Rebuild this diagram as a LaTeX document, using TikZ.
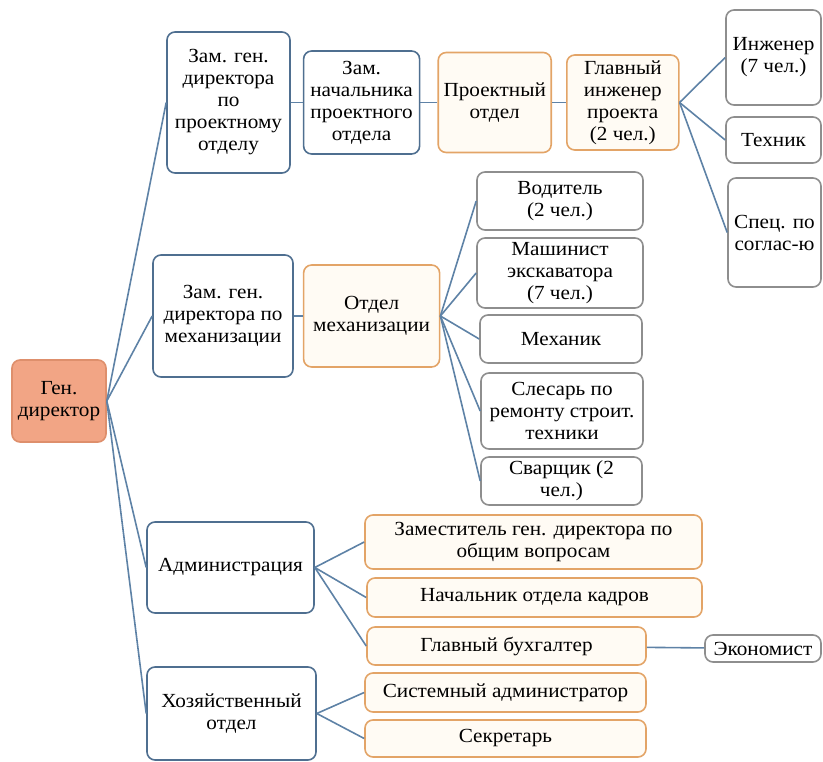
\documentclass[tikz,border=0pt]{standalone}
\usepackage{fontspec}
\newfontfamily\timesfont{Liberation Serif}[FakeStretch=1.06]
\usetikzlibrary{positioning}
\definecolor{bluedraw}{HTML}{4F6F90}
\definecolor{linkblue}{HTML}{5E82A6}
\definecolor{orangedraw}{HTML}{E3A467}
\definecolor{orangefill}{HTML}{FFFBF4}
\definecolor{greydraw}{HTML}{8E8E8E}
\definecolor{genfill}{HTML}{F2A585}
\definecolor{gendraw}{HTML}{DE8F6C}

\begin{document}
\begin{tikzpicture}[x=1pt, y=-1pt, font=\timesfont\fontsize{20}{22}\selectfont,
    basenode/.style={rectangle, rounded corners=8pt, line width=1.6pt, align=center, inner sep=1pt},
    gennode/.style={basenode, draw=gendraw, fill=genfill},
    bluenode/.style={basenode, draw=bluedraw, fill=white},
    orangenode/.style={basenode, draw=orangedraw, fill=orangefill},
    greynode/.style={basenode, draw=greydraw, fill=white},
    link/.style={draw=linkblue, line width=1.6pt}]

        \useasboundingbox (0,0) rectangle (823,762);

        \node[gennode, minimum width=94pt, minimum height=82pt] (1) at (59,401) {Ген.\\директор};

        \node[bluenode, minimum width=123pt, minimum height=141pt] (2) at (228.5,102.5) {Зам. ген.\\директора\\по\\проектному\\отделу};
        \node[bluenode, minimum width=116pt, minimum height=103pt] (3) [right=12pt of 2] {Зам.\\начальника\\проектного\\отдела};
        \node[orangenode, minimum width=113pt, minimum height=100pt] (4) [right=17pt of 3] {Проектный\\отдел};
        \node[orangenode, minimum width=112pt, minimum height=95pt] (5) [right=14pt of 4] {Главный\\инженер\\проекта\\(2 чел.)};
        \node[greynode, minimum width=95pt, minimum height=95pt] (6) at (773.5,57.5) {Инженер\\(7 чел.)};
        \node[greynode, minimum width=95pt, minimum height=46pt] (7) at (773.5,140) {Техник};
        \node[greynode, minimum width=93pt, minimum height=109pt] (8) at (774.5,232.5) {Спец. по\\соглас-ю};

        \node[bluenode, minimum width=140pt, minimum height=122pt] (9) at (223,316) {Зам. ген.\\директора по\\механизации};
        \node[orangenode, minimum width=136pt, minimum height=102pt] (10) [right=9pt of 9] {Отдел\\механизации};
        \node[greynode, minimum width=166pt, minimum height=58pt] (11) at (560,201) {Водитель\\(2 чел.)};
        \node[greynode, minimum width=166pt, minimum height=70pt] (12) at (560,273) {Машинист\\экскаватора\\(7 чел.)};
        \node[greynode, minimum width=162pt, minimum height=48pt] (13) at (561,339) {Механик};
        \node[greynode, minimum width=162pt, minimum height=76pt] (14) at (562,411) {Слесарь по\\ремонту строит.\\техники};
        \node[greynode, minimum width=161pt, minimum height=48pt] (15) at (561.5,481) {Сварщик (2\\чел.)};

        \node[bluenode, minimum width=167pt, minimum height=91pt] (16) at (230.5,567.5) {Администрация};
        \node[orangenode, minimum width=337pt, minimum height=54pt] (17) at (533.5,542) {Заместитель ген. директора по\\общим вопросам};
        \node[orangenode, minimum width=335pt, minimum height=39pt] (18) at (534.5,597.5) {Начальник отдела кадров};
        \node[orangenode, minimum width=279pt, minimum height=38pt] (19) at (506.5,646) {Главный бухгалтер};
        \node[greynode, minimum width=116pt, minimum height=27pt] (20) at (763,648.5) {Экономист};

        \node[bluenode, minimum width=169pt, minimum height=93pt] (21) at (231.5,713.5) {Хозяйственный\\отдел};
        \node[orangenode, minimum width=281pt, minimum height=39pt] (22) at (505.5,692.5) {Системный администратор};
        \node[orangenode, minimum width=281pt, minimum height=37pt] (23) at (505.5,738.5) {Секретарь};

        \draw[link] (1.east) -- (2.west);
        \draw[link] (1.east) -- (9.west);
        \draw[link] (1.east) -- (16.west);
        \draw[link] (1.east) -- (21.west);

        \draw[link] (2) -- (3);
        \draw[link] (3) -- (4);
        \draw[link] (4) -- (5);
        \draw[link] (5.east) -- (6.west);
        \draw[link] (5.east) -- (7.west);
        \draw[link] (5.east) -- (8.west);

        \draw[link] (9) -- (10);
        \draw[link] (10.east) -- (11.west);
        \draw[link] (10.east) -- (12.west);
        \draw[link] (10.east) -- (13.west);
        \draw[link] (10.east) -- (14.west);
        \draw[link] (10.east) -- (15.west);

        \draw[link] (16.east) -- (17.west);
        \draw[link] (16.east) -- (18.west);
        \draw[link] (16.east) -- (19.west);
        \draw[link] (19) -- (20);

        \draw[link] (21.east) -- (22.west);
        \draw[link] (21.east) -- (23.west);

        \end{tikzpicture}
\end{document}
